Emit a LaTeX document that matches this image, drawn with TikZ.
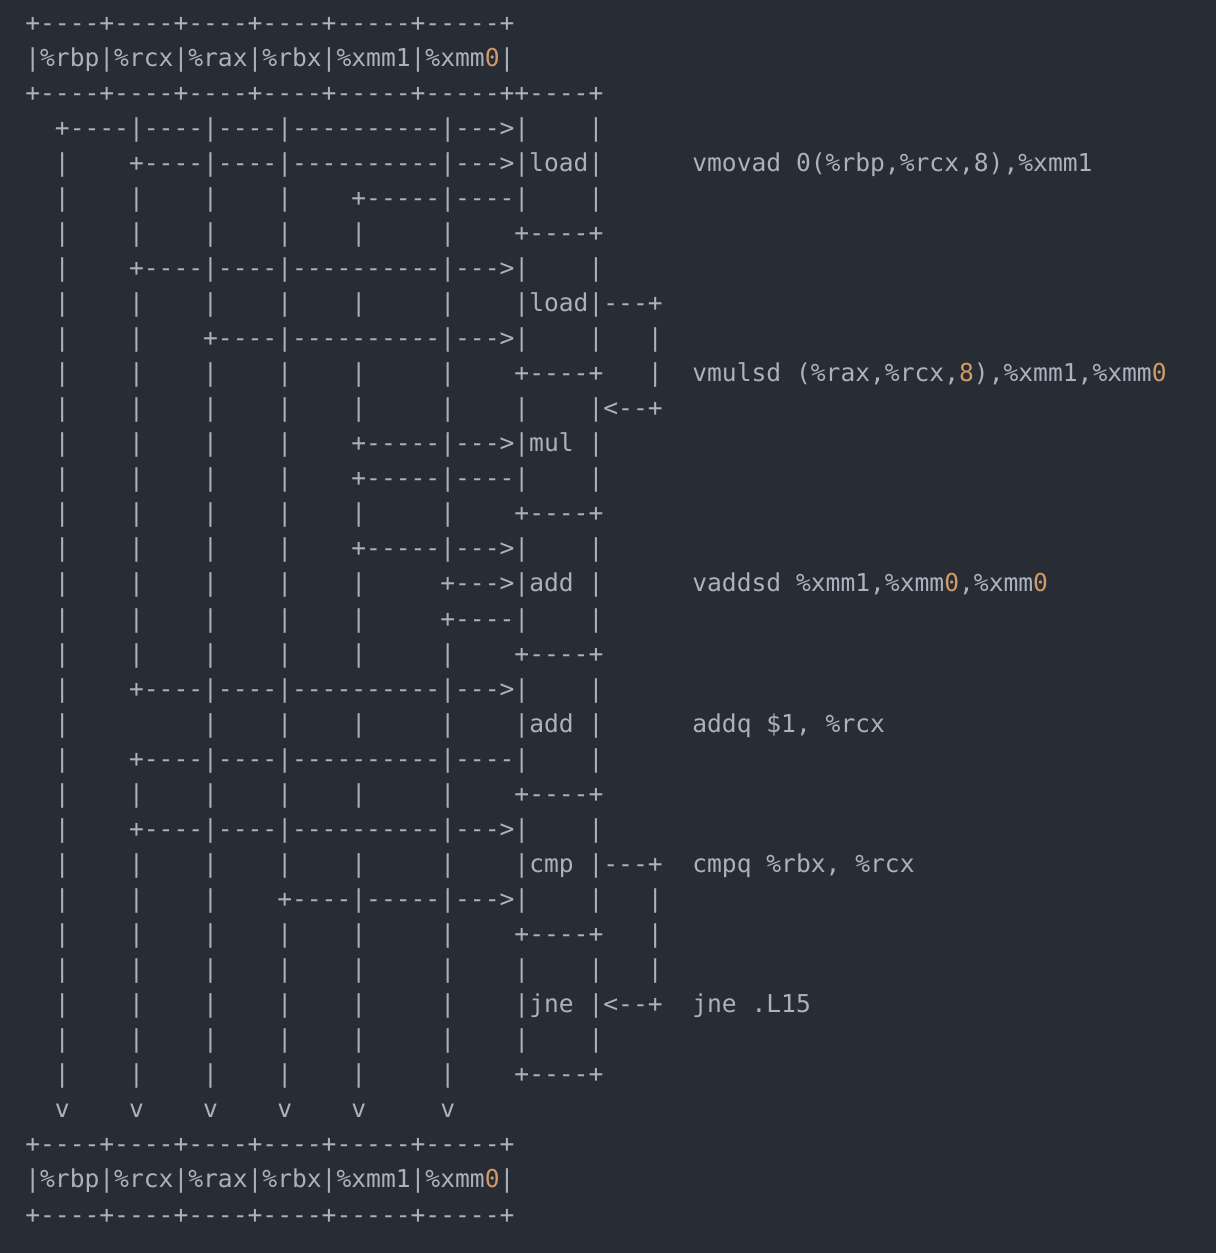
\documentclass[tikz,border=0pt]{standalone}
\usepackage{fontspec}
\setmonofont{DejaVu Sans Mono}
\usepackage{xcolor}
\definecolor{editorbg}{HTML}{282C34}
\definecolor{codegray}{HTML}{ABB2BF}
\definecolor{numorange}{HTML}{D19A66}
\frenchspacing

% highlighted digits
\newcommand\nz[1]{\textcolor{numorange}{#1}}
% store one line of the drawing under its row number
\newcommand\setrow[2]{\expandafter\gdef\csname artrow#1\endcsname{#2}}

% lines are stored with active spaces, so every blank keeps its column
{\obeyspaces
\setrow{0}{+----+----+----+----+-----+-----+}
\setrow{1}{|\%rbp|\%rcx|\%rax|\%rbx|\%xmm1|\%xmm\nz{0}|}
\setrow{2}{+----+----+----+----+-----+-----++----+}
\setrow{3}{  +----|----|----|----------|--->|    |}
\setrow{4}{  |    +----|----|----------|--->|load|      vmovad 0(\%rbp,\%rcx,8),\%xmm1}
\setrow{5}{  |    |    |    |    +-----|----|    |}
\setrow{6}{  |    |    |    |    |     |    +----+}
\setrow{7}{  |    +----|----|----------|--->|    |}
\setrow{8}{  |    |    |    |    |     |    |load|---+}
\setrow{9}{  |    |    +----|----------|--->|    |   |}
\setrow{10}{  |    |    |    |    |     |    +----+   |  vmulsd (\%rax,\%rcx,\nz{8}),\%xmm1,\%xmm\nz{0}}
\setrow{11}{  |    |    |    |    |     |    |    |<--+}
\setrow{12}{  |    |    |    |    +-----|--->|mul |}
\setrow{13}{  |    |    |    |    +-----|----|    |}
\setrow{14}{  |    |    |    |    |     |    +----+}
\setrow{15}{  |    |    |    |    +-----|--->|    |}
\setrow{16}{  |    |    |    |    |     +--->|add |      vaddsd \%xmm1,\%xmm\nz{0},\%xmm\nz{0}}
\setrow{17}{  |    |    |    |    |     +----|    |}
\setrow{18}{  |    |    |    |    |     |    +----+}
\setrow{19}{  |    +----|----|----------|--->|    |}
\setrow{20}{  |         |    |    |     |    |add |      addq \$1, \%rcx}
\setrow{21}{  |    +----|----|----------|----|    |}
\setrow{22}{  |    |    |    |    |     |    +----+}
\setrow{23}{  |    +----|----|----------|--->|    |}
\setrow{24}{  |    |    |    |    |     |    |cmp |---+  cmpq \%rbx, \%rcx}
\setrow{25}{  |    |    |    +----|-----|--->|    |   |}
\setrow{26}{  |    |    |    |    |     |    +----+   |}
\setrow{27}{  |    |    |    |    |     |    |    |   |}
\setrow{28}{  |    |    |    |    |     |    |jne |<--+  jne .L15}
\setrow{29}{  |    |    |    |    |     |    |    |}
\setrow{30}{  |    |    |    |    |     |    +----+}
\setrow{31}{  v    v    v    v    v     v}
\setrow{32}{+----+----+----+----+-----+-----+}
\setrow{33}{|\%rbp|\%rcx|\%rax|\%rbx|\%xmm1|\%xmm\nz{0}|}
\setrow{34}{+----+----+----+----+-----+-----+}
}

\tikzset{
  rowtext/.style={anchor=base west, inner sep=0pt, text=codegray,
    font=\ttfamily\fontsize{24.62pt}{35pt}\selectfont},
}

\begin{document}
\begin{tikzpicture}[x=1pt, y=-1pt]
  \fill[editorbg] (0,0) rectangle (1216,1253);
  \useasboundingbox (0,0) rectangle (1216,1253);
  \foreach \ri in {0,...,34} {
    \node[rowtext] (row\ri) at (25.1, {31+35.06*\ri}) {\null\csname artrow\ri\endcsname};
  }
\end{tikzpicture}
\end{document}
